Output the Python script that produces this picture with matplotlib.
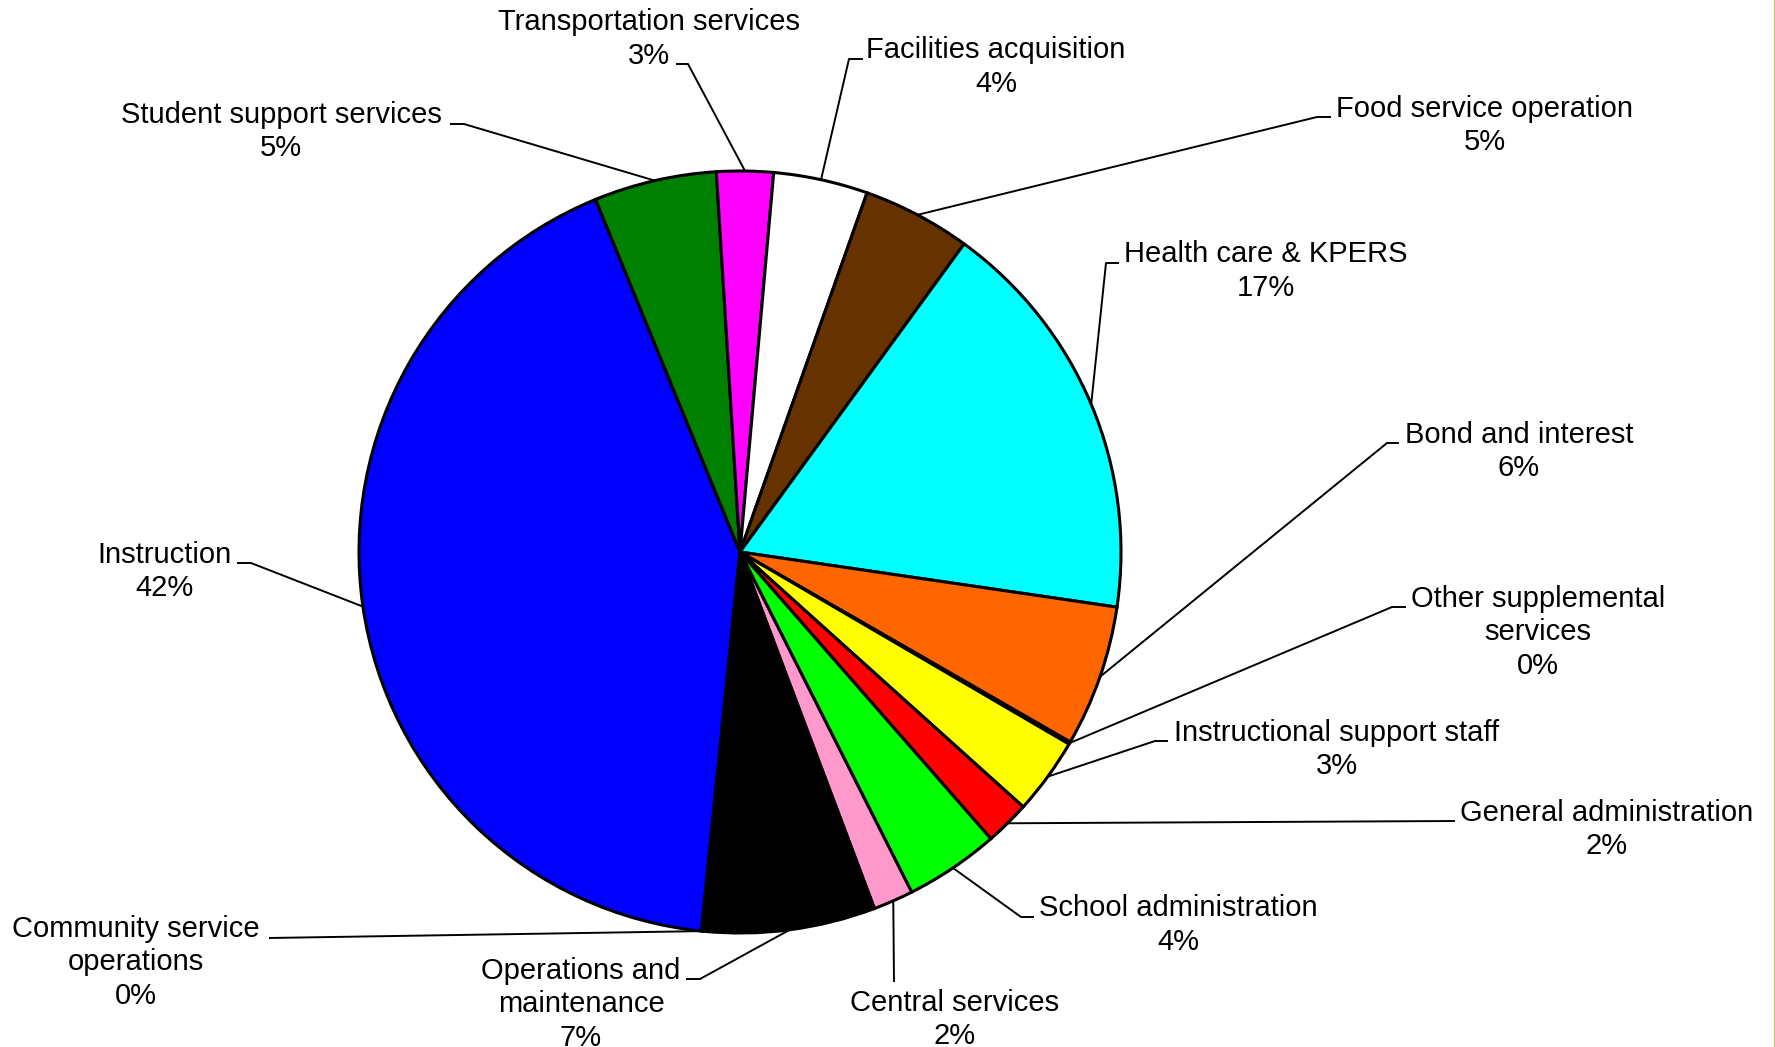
import numpy as np
import matplotlib
matplotlib.use("Agg")
import matplotlib.pyplot as plt
from matplotlib.lines import Line2D

# ------------------------------------------------------------
# DATA  (share of budget, clockwise from the Instruction slice)
# ------------------------------------------------------------
categories = [
    "Instruction",
    "Student support services",
    "Transportation services",
    "Facilities acquisition",
    "Food service operation",
    "Health care & KPERS",
    "Bond and interest",
    "Other supplemental\nservices",
    "Instructional support staff",
    "General administration",
    "School administration",
    "Central services",
    "Operations and\nmaintenance",
    "Community service\noperations",
]
values = [42.2, 5.2, 2.4, 4.0, 4.6, 17.3, 6.0, 0.1, 3.25, 1.9, 4.0, 1.7, 7.3, 0.05]
pct_labels = ["42%", "5%", "3%", "4%", "5%", "17%", "6%", "0%", "3%", "2%", "4%", "2%", "7%", "0%"]
colors = ["#0000FF", "#008000", "#FF00FF", "#FFFFFF", "#663300", "#00FFFF", "#FF6600",
          "#000080", "#FFFF00", "#FF0000", "#00FF00", "#FF99CC", "#000000", "#800000"]

# ------------------------------------------------------------
# LAYOUT (pixel coords, origin top-left)
# label centre x, first-line baseline y, leader elbow (x, y), leader end x
# ------------------------------------------------------------
W, H = 1775, 1047
CX, CY, R = 740, 552, 381
LINE_H = 33.5
label_xy = [(165, 563), (281, 123), (649, 30), (996, 58), (1485, 117), (1266, 262),
            (1519, 443), (1538, 607), (1337, 741), (1607, 821), (1178, 916),
            (955, 1011), (581, 979), (136, 937)]
elbows = [(251, 563, 237), (464, 124, 450), (688, 64, 676), (849, 59, 863),
          (1317, 117, 1331), (1106, 263, 1119), (1387, 443, 1399), (1392, 607, 1406),
          (1155, 741, 1168), (1455, 821, 1455), (1021, 917, 1034), (894, 982, 894),
          (700, 979, 686), (269, 938, 269)]

FONT = "Liberation Sans"
FS = 21

fig = plt.figure(figsize=(W / 100, H / 100), dpi=100)
ax = fig.add_axes([0, 0, 1, 1])

wedges, _ = ax.pie(values, colors=colors, startangle=264.2, counterclock=False,
                   center=(CX, H - CY), radius=R,
                   wedgeprops=dict(edgecolor="black", linewidth=2.2))
ax.set_xlim(0, W)
ax.set_ylim(0, H)
ax.set_aspect("equal")
ax.axis("off")

for i, w in enumerate(wedges):
    # leader: from the middle of the slice's arc to the elbow, then a short tick
    mid = np.deg2rad((w.theta1 + w.theta2) / 2)
    px = CX + R * np.cos(mid)
    py = (H - CY) + R * np.sin(mid)
    ex, ey, endx = elbows[i]
    ax.plot([px, ex, endx], [py, H - ey, H - ey], color="black",
            linewidth=1.4, solid_capstyle="butt", zorder=1)

    # label: one text per line so each baseline lands where it should
    tx, ty = label_xy[i]
    lines = (categories[i] + "\n" + pct_labels[i]).split("\n")
    for k, line in enumerate(lines):
        ax.text(tx, H - (ty + k * LINE_H), line, ha="center", va="baseline",
                fontsize=FS, family=FONT)

# thin border on the right edge
fig.add_artist(Line2D([0.9997, 0.9997], [0, 1], transform=fig.transFigure,
                      color="#D4C08A", linewidth=1.0))

fig.savefig("out.png", dpi=100)
